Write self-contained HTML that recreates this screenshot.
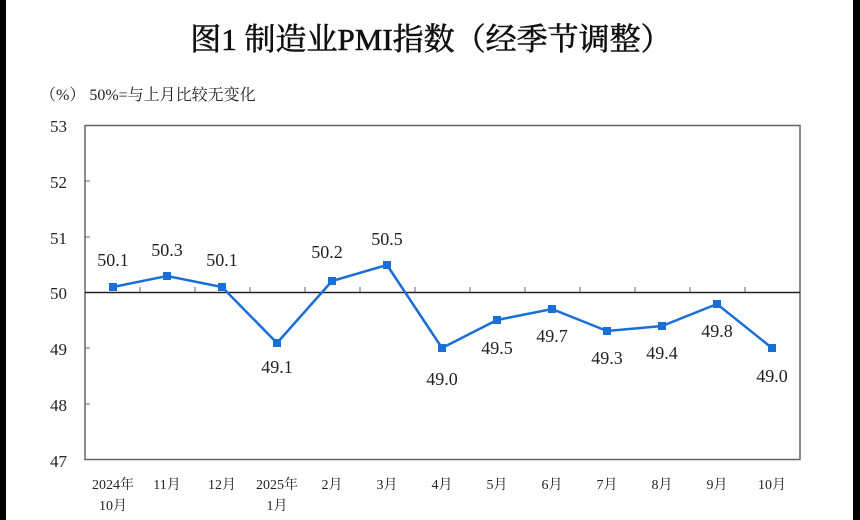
<!DOCTYPE html>
<html><head><meta charset="utf-8"><style>
body{margin:0;background:#fff}
svg{display:block}
</style></head><body>
<svg width="860" height="520" xmlns="http://www.w3.org/2000/svg" font-family="'Liberation Serif','Noto Serif CJK SC',serif">
<rect width="860" height="520" fill="#fff"/>
<rect x="0" y="0" width="6" height="520" fill="#000"/>
<rect x="853" y="0" width="7" height="520" fill="#000"/>
<text x="431" y="50" text-anchor="middle" font-size="31" stroke="#111" stroke-width="0.6" fill="#111">图1  制造业PMI指数（经季节调整）</text>
<text x="40" y="100" font-size="16" fill="#222">（%）  50%=与上月比较无变化</text>
<rect x="85" y="125.5" width="715" height="334" fill="none" stroke="#666" stroke-width="1.5"/>
<line x1="85" y1="292.5" x2="800" y2="292.5" stroke="#222" stroke-width="1.5"/>
<g stroke="#666" stroke-width="1">
<line x1="85" y1="181" x2="90" y2="181"/><line x1="85" y1="237" x2="90" y2="237"/>
<line x1="85" y1="348" x2="90" y2="348"/><line x1="85" y1="404" x2="90" y2="404"/>
<line x1="140" y1="292" x2="140" y2="287"/><line x1="195" y1="292" x2="195" y2="287"/>
<line x1="250" y1="292" x2="250" y2="287"/><line x1="305" y1="292" x2="305" y2="287"/>
<line x1="360" y1="292" x2="360" y2="287"/><line x1="415" y1="292" x2="415" y2="287"/>
<line x1="470" y1="292" x2="470" y2="287"/><line x1="525" y1="292" x2="525" y2="287"/>
<line x1="580" y1="292" x2="580" y2="287"/><line x1="635" y1="292" x2="635" y2="287"/>
<line x1="690" y1="292" x2="690" y2="287"/><line x1="745" y1="292" x2="745" y2="287"/>
</g>
<g font-size="17" fill="#222" text-anchor="end">
<text x="67" y="132">53</text><text x="67" y="188">52</text><text x="67" y="244">51</text>
<text x="67" y="299">50</text><text x="67" y="355">49</text><text x="67" y="411">48</text><text x="67" y="467">47</text>
</g>
<g font-size="14" fill="#222" text-anchor="middle">
<text x="113" y="489">2024年</text><text x="113" y="510">10月</text>
<text x="167" y="489">11月</text><text x="222" y="489">12月</text>
<text x="277" y="489">2025年</text><text x="277" y="510">1月</text>
<text x="332" y="489">2月</text><text x="387" y="489">3月</text><text x="442" y="489">4月</text>
<text x="497" y="489">5月</text><text x="552" y="489">6月</text><text x="607" y="489">7月</text>
<text x="662" y="489">8月</text><text x="717" y="489">9月</text><text x="772" y="489">10月</text>
</g>
<polyline fill="none" stroke="#1a6fd6" stroke-width="2.5" points="113,287 167,276 222,287 277,343 332,281 387,265 442,348 497,320 552,309 607,331 662,326 717,304 772,348"/>
<g fill="#1a6fd6">
<rect x="109" y="283" width="8" height="8"/><rect x="163" y="272" width="8" height="8"/>
<rect x="218" y="283" width="8" height="8"/><rect x="273" y="339" width="8" height="8"/>
<rect x="328" y="277" width="8" height="8"/><rect x="383" y="261" width="8" height="8"/>
<rect x="438" y="344" width="8" height="8"/><rect x="493" y="316" width="8" height="8"/>
<rect x="548" y="305" width="8" height="8"/><rect x="603" y="327" width="8" height="8"/>
<rect x="658" y="322" width="8" height="8"/><rect x="713" y="300" width="8" height="8"/>
<rect x="768" y="344" width="8" height="8"/>
</g>
<g font-size="18" fill="#222" text-anchor="middle">
<text x="113" y="266">50.1</text><text x="167" y="256">50.3</text><text x="222" y="266">50.1</text>
<text x="277" y="373">49.1</text><text x="327" y="258">50.2</text><text x="387" y="245">50.5</text>
<text x="442" y="385">49.0</text><text x="497" y="354">49.5</text><text x="552" y="342">49.7</text>
<text x="607" y="364">49.3</text><text x="662" y="359">49.4</text><text x="717" y="337">49.8</text>
<text x="772" y="382">49.0</text>
</g>
</svg>
</body></html>
